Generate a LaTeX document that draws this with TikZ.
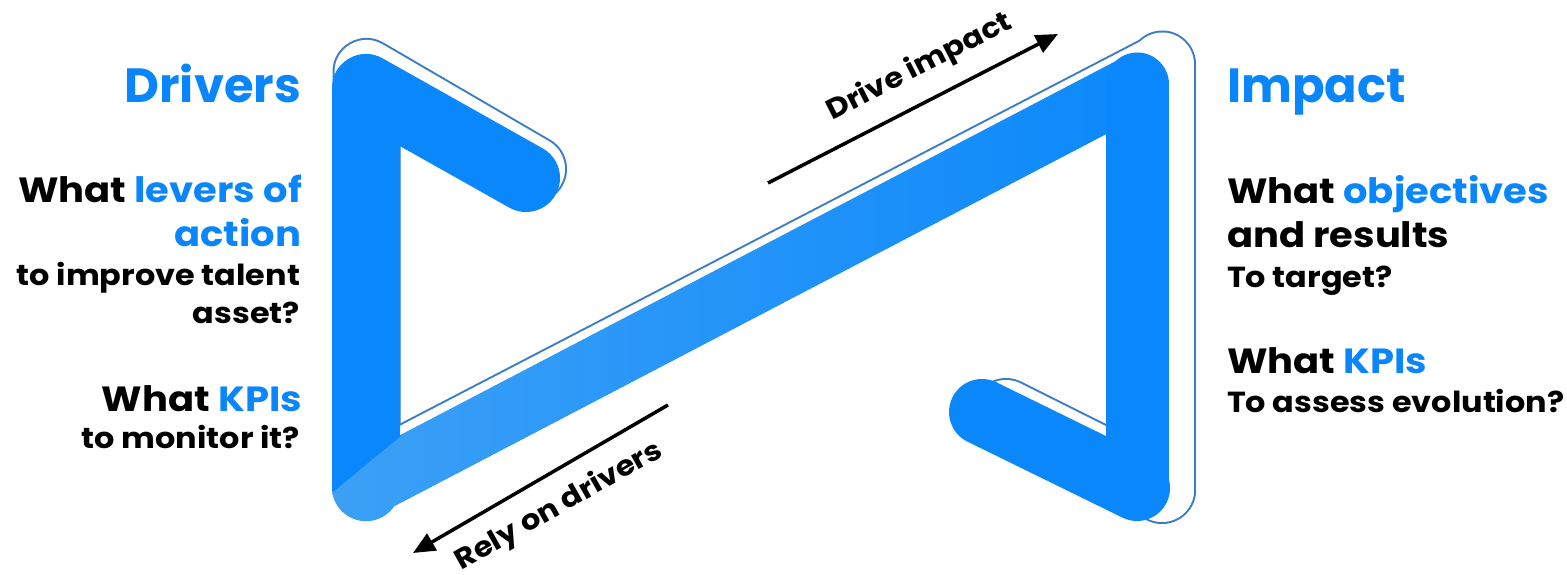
\documentclass[tikz,border=0pt]{standalone}
\usepackage{fontspec}
\setmainfont{Poppins}
\newfontfamily\popw{Poppins}[FakeStretch=1.10]
\usetikzlibrary{arrows.meta}
\definecolor{rib}{HTML}{0A88FB}
\definecolor{ribl}{HTML}{3CA0F6}
\definecolor{outl}{HTML}{3A7DC4}
\definecolor{tblue}{HTML}{0A86FD}
\newcommand\fbig{\fontsize{48pt}{52pt}\selectfont\bfseries}
\newcommand\fmid{\popw\fontsize{35pt}{38pt}\selectfont\bfseries}
\newcommand\fsml{\popw\fontsize{29pt}{32pt}\selectfont\bfseries}
\newcommand\farr{\popw\fontsize{28pt}{32pt}\selectfont\bfseries}
\begin{document}
\begin{tikzpicture}[x=1pt,y=-1pt,
  rb/.style={draw=rib, line cap=round, line join=round},
  olo/.style={draw=outl, line cap=round, line join=round},
  oli/.style={draw=white, line cap=round, line join=round},
  lbl/.style={inner sep=0pt, outer sep=0pt},
  arr/.style={line width=3.5pt, -{Triangle[length=22pt,width=19pt]}}]
\useasboundingbox (0,0) rectangle (1567,575);
% blue ribbon points
\coordinate (A) at (526,178);
\coordinate (B) at (366,88);
\coordinate (C) at (366,487);
\coordinate (D) at (1137,84);
\coordinate (E) at (1137,488);
\coordinate (F) at (982,412);
% outline ribbon points
\coordinate (A2) at (533,169);
\coordinate (B2) at (366.5,72);
\coordinate (C2) at (366.5,477);
\coordinate (D2) at (1162,64);
\coordinate (E2) at (1162,490);
\coordinate (F2) at (1006,412);
% outline ribbon
\draw[olo, line width=68pt] (A2) -- (B2) -- (C2);
\draw[olo, line width=64pt] (C2) -- (D2);
\draw[olo, line width=67pt] (D2) -- (E2);
\draw[olo, line width=68pt] (E2) -- (F2);
\draw[oli, line width=64pt] (A2) -- (B2) -- (C2);
\draw[oli, line width=60pt] (C2) -- (D2);
\draw[oli, line width=63pt] (D2) -- (E2);
\draw[oli, line width=64pt] (E2) -- (F2);
% blue ribbon
\draw[rb, line width=68pt] (A) -- (B) -- (C);
\draw[rb, line width=60pt] (C) -- (D);
\begin{scope}
  \clip (196,605) -- (876,45) -- (1400,45) -- (1400,700) -- (196,700) -- cycle;
  \begin{scope}
    \clip (379.9,513.6) -- (1150.9,110.6) -- (1123.1,57.4) -- (352.1,460.4) -- cycle;
    \shade[left color=ribl, right color=rib] (332,40) rectangle (1171,530);
  \end{scope}
  \begin{scope}
    \clip (C) circle[radius=34pt];
    \shade[left color=ribl, right color=rib] (332,40) rectangle (1171,530);
  \end{scope}
\end{scope}
\draw[rb, line width=63pt] (D) -- (E);
\draw[rb, line width=66pt] (E) -- (F);
% arrows
\coordinate (d1) at (768,183);
\coordinate (d2) at (1058,34);
\coordinate (r1) at (668,405);
\coordinate (r2) at (413,553);
\draw[arr] (d1) -- (d2);
\draw[arr] (r1) -- (r2);
\node[lbl, font=\farr, rotate=27, anchor=base] (dlab) at (923,74) {Drive impact};
\node[lbl, font=\farr, rotate=29.5, anchor=base] (rlab) at (563,513) {Rely on drivers};
% left texts
\node[lbl, font=\fbig, text=tblue, anchor=base east] (l1) at (301,103) {Drivers};
\node[lbl, font=\fmid, anchor=base east] (l2) at (302,203) {What \textcolor{tblue}{levers of}};
\node[lbl, font=\fmid, text=tblue, anchor=base east] (l3) at (301,246) {action};
\node[lbl, font=\fsml, anchor=base east] (l4) at (300,285) {to improve talent};
\node[lbl, font=\fsml, anchor=base east] (l5) at (300,323) {asset?};
\node[lbl, font=\fmid, anchor=base east] (l6) at (302,411) {What \textcolor{tblue}{KPIs}};
\node[lbl, font=\fsml, anchor=base east] (l7) at (300,448) {to monitor it?};
% right texts
\node[lbl, font=\fbig, text=tblue, anchor=base west] (r1t) at (1227,103) {Impact};
\node[lbl, font=\fmid, anchor=base west] (r2t) at (1227,204) {What \textcolor{tblue}{objectives}};
\node[lbl, font=\fmid, anchor=base west] (r3t) at (1227,247) {and results};
\node[lbl, font=\fsml, anchor=base west] (r4t) at (1227,287) {To target?};
\node[lbl, font=\fmid, anchor=base west] (r5t) at (1227,373) {What \textcolor{tblue}{KPIs}};
\node[lbl, font=\fsml, anchor=base west] (r6t) at (1227,412) {To assess evolution?};
\end{tikzpicture}
\end{document}
